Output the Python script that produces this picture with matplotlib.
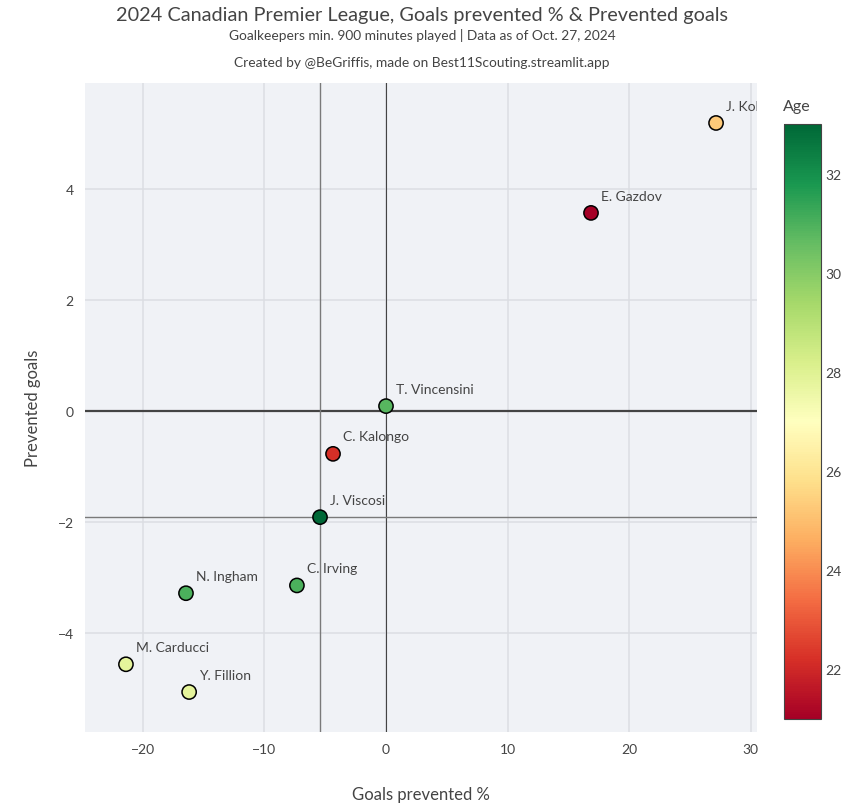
import numpy as np
import matplotlib
matplotlib.use("Agg")
import matplotlib.pyplot as plt
from matplotlib.colors import Normalize

plt.rcParams['font.family'] = ['Lato', 'DejaVu Sans']

players = ["J. Kolovos", "E. Gazdov", "T. Vincensini", "C. Kalongo", "J. Viscosi",
           "C. Irving", "N. Ingham", "M. Carducci", "Y. Fillion"]
goals_prevented_pct = [27.16, 16.87, 0.0, -4.36, -5.43, -7.33, -16.46, -21.4, -16.2]
prevented_goals = [5.19, 3.57, 0.09, -0.77, -1.91, -3.14, -3.28, -4.56, -5.06]
ages = [25.3, 21, 30.8, 22.2, 33, 31, 31, 27.8, 27.8]

age_min, age_max = 21, 33
x_ticks = [-20, -10, 0, 10, 20, 30]
y_ticks = [-4, -2, 0, 2, 4]
cbar_ticks = [22, 24, 26, 28, 30, 32]

W, H = 843, 804
fig = plt.figure(figsize=(W / 100, H / 100), dpi=100)
fig.patch.set_facecolor('white')

ax = fig.add_axes([85 / W, 1 - 733 / H, (757 - 85) / W, (733 - 84) / H])
ax.set_facecolor('#f0f2f6')
for s in ax.spines.values():
    s.set_visible(False)

ax.set_xlim(-24.77, 30.53)
ax.set_ylim(-5.78, 5.91)
ax.set_xticks(x_ticks)
ax.set_yticks(y_ticks)
ax.grid(True, color='#dcdee3', linewidth=1.1, zorder=0)
ax.set_axisbelow(True)
ax.tick_params(length=0, labelsize=10, labelcolor='#444444', pad=8)

# zero lines
ax.axhline(0, color='#444444', linewidth=1.6, zorder=1)
ax.axvline(0, color='#444444', linewidth=0.8, zorder=1)
# median lines
ax.axvline(np.median(goals_prevented_pct), color='#7a7a7a', linewidth=1.0, zorder=1)
ax.axhline(np.median(prevented_goals), color='#7a7a7a', linewidth=1.0, zorder=1)

cmap = plt.get_cmap('RdYlGn')
norm = Normalize(age_min, age_max)
sc = ax.scatter(goals_prevented_pct, prevented_goals, c=ages, cmap=cmap, norm=norm,
                s=105, edgecolors='black', linewidths=1.1, zorder=3)

for name, x, y in zip(players, goals_prevented_pct, prevented_goals):
    ax.annotate(name, (x, y), xytext=(7, 12.5), textcoords='offset points',
                ha='left', va='center', fontsize=10, color='#444444', zorder=4,
                clip_on=True)

ax.set_xlabel('Goals prevented %', fontsize=12, color='#444444', labelpad=22)
ax.set_ylabel('Prevented goals', fontsize=12, color='#444444', labelpad=12)

cax = fig.add_axes([784 / W, 1 - 720 / H, 37 / W, 595 / H])
cb = fig.colorbar(sc, cax=cax, ticks=cbar_ticks)
cb.outline.set_edgecolor('#444444')
cb.outline.set_linewidth(0.8)
cax.tick_params(length=0, labelsize=10, labelcolor='#444444', pad=3)
fig.text(783 / W, 1 - 107 / H, 'Age', fontsize=11.5, color='#444444', ha='left', va='center')

fig.text(422 / W, 1 - 15 / H, '2024 Canadian Premier League, Goals prevented % & Prevented goals',
         fontsize=14.3, color='#444444', ha='center', va='center')
fig.text(422 / W, 1 - 35 / H, 'Goalkeepers min. 900 minutes played | Data as of Oct. 27, 2024',
         fontsize=9.9, color='#444444', ha='center', va='center')
fig.text(422 / W, 1 - 63 / H, 'Created by @BeGriffis, made on Best11Scouting.streamlit.app',
         fontsize=9.9, color='#444444', ha='center', va='center')

fig.savefig('out.png', dpi=100)
